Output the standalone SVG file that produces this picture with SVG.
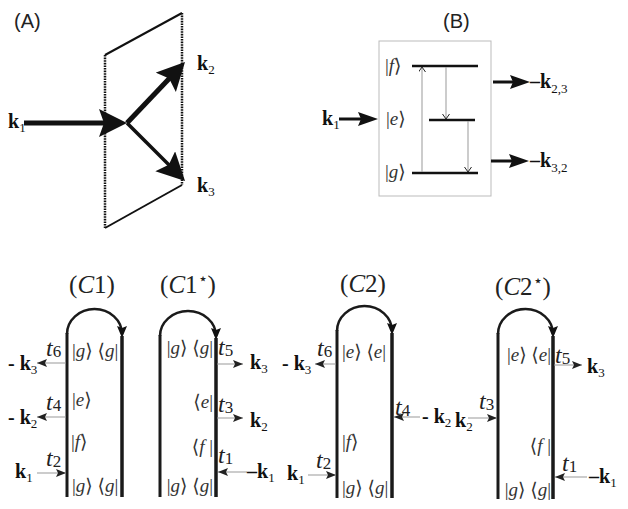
<svg xmlns="http://www.w3.org/2000/svg" width="628" height="509" viewBox="0 0 628 509">
<style>
.lab{font-family:"Liberation Sans",Arial,sans-serif;font-size:20px;fill:#222}
.k{font-family:"Liberation Serif","DejaVu Serif",serif;font-weight:bold;font-size:20px;fill:#111}
.kb{font-size:20px}
.ks{font-size:13px;font-weight:normal}
.ket{font-family:"Liberation Serif","DejaVu Serif",serif;font-size:19px;fill:#333}
.it{font-style:italic}
.t{font-family:"Liberation Serif","DejaVu Serif",serif;font-size:24px;fill:#222}
.ts{font-size:17px;font-style:normal}
.cl{font-family:"Liberation Serif","DejaVu Serif",serif;font-size:25px;fill:#222;text-anchor:middle}
.star{font-size:16px}
.rail{stroke:#1a1a1a;fill:none}
.thin{stroke:#999;stroke-width:1;fill:none}
.edge{stroke:#111;stroke-width:2.5;stroke-dasharray:1.6 1}
</style>
<defs>
<marker id="bigA" markerUnits="userSpaceOnUse" markerWidth="30" markerHeight="30" refX="10" refY="14" orient="auto"><path d="M0,0 L28,14 L0,28 L5,14 z" fill="#111"/></marker>
<marker id="midB" markerUnits="userSpaceOnUse" markerWidth="22" markerHeight="16" refX="8" refY="7" orient="auto"><path d="M0,0 L20,7 L0,14 L3,7 z" fill="#111"/></marker>
<marker id="chev" markerUnits="userSpaceOnUse" markerWidth="8" markerHeight="8" refX="5" refY="3.5" orient="auto"><path d="M0,0 L5,3.5 L0,7" fill="none" stroke="#222" stroke-width="1"/></marker>
<marker id="sm" markerUnits="userSpaceOnUse" markerWidth="12" markerHeight="10" refX="10" refY="4" orient="auto"><path d="M0,0 L10,4 L0,8 L2,4 z" fill="#222"/></marker>
<marker id="arc" markerUnits="userSpaceOnUse" markerWidth="14" markerHeight="12" refX="8" refY="5" orient="auto"><path d="M0,0 L12,5 L0,10 L2,5 z" fill="#111"/></marker>
</defs>

<!-- Panel A -->
<g id="panelA">
<text class="lab" x="14" y="28">(A)</text>
<g id="plane">
<line x1="105" y1="55" x2="182" y2="13" stroke="#111" stroke-width="2"/>
<line x1="105" y1="228" x2="182" y2="185" stroke="#111" stroke-width="2"/>
<line class="edge" x1="105" y1="55" x2="105" y2="228"/>
<line class="edge" x1="182" y1="13" x2="182" y2="185"/>
</g>
<g id="beamsA">
<line x1="24" y1="123" x2="109" y2="123" stroke="#111" stroke-width="5" marker-end="url(#bigA)"/>
<line x1="127" y1="123" x2="172.6" y2="75" stroke="#111" stroke-width="5" marker-end="url(#bigA)"/>
<line x1="127" y1="123" x2="172.3" y2="168.3" stroke="#111" stroke-width="3.5" marker-end="url(#bigA)"/>
</g>
<text class="k kb" x="8" y="128">k<tspan class="ks" dy="4">1</tspan></text>
<text class="k kb" x="197" y="70">k<tspan class="ks" dy="4">2</tspan></text>
<text class="k kb" x="197" y="192">k<tspan class="ks" dy="4">3</tspan></text>
</g>

<!-- Panel B -->
<g id="panelB">
<text class="lab" x="443" y="28">(B)</text>
<rect x="379" y="41" width="112" height="155" fill="none" stroke="#bbb" stroke-width="1"/>
<g id="levels">
<line x1="412" y1="66" x2="478" y2="66" stroke="#111" stroke-width="2.5"/>
<line x1="429" y1="120" x2="475" y2="120" stroke="#111" stroke-width="2.5"/>
<line x1="412" y1="173" x2="478" y2="173" stroke="#111" stroke-width="2.5"/>
<text class="ket" x="385" y="72">|<tspan class="it">f</tspan>⟩</text>
<text class="ket" x="386" y="125">|<tspan class="it">e</tspan>⟩</text>
<text class="ket" x="385" y="178">|<tspan class="it">g</tspan>⟩</text>
</g>
<g id="transitions">
<line class="thin" x1="422" y1="172" x2="422" y2="67" marker-end="url(#chev)"/>
<line class="thin" x1="446" y1="67" x2="446" y2="119" marker-end="url(#chev)"/>
<line class="thin" x1="468" y1="121" x2="468" y2="172" marker-end="url(#chev)"/>
</g>
<g id="beamsB">
<line x1="339" y1="119" x2="366" y2="119" stroke="#111" stroke-width="3" marker-end="url(#midB)"/>
<line x1="493" y1="82" x2="518" y2="82" stroke="#111" stroke-width="3" marker-end="url(#midB)"/>
<line x1="491" y1="161" x2="517" y2="161" stroke="#111" stroke-width="3" marker-end="url(#midB)"/>
</g>
<text class="k kb" x="322" y="125">k<tspan class="ks" dy="4">1</tspan></text>
<text class="k kb" x="530" y="88">–k<tspan class="ks" font-size="14" dy="5">2,3</tspan></text>
<text class="k kb" x="530" y="167">–k<tspan class="ks" font-size="14" dy="5">3,2</tspan></text>
</g>

<!-- Panel C: rails -->
<g id="C1">
<text class="cl" x="92" y="293">(<tspan class="it">C</tspan>1)</text>
<path class="rail" stroke-width="2.5" d="M67,334 A27.5,25 0 0 1 122,334" marker-end="url(#arc)"/>
<line class="rail" x1="67" y1="333" x2="67" y2="497" stroke-width="3"/>
<line class="rail" x1="122" y1="336" x2="122" y2="497" stroke-width="3.5"/>
<text class="ket" x="72" y="357">|<tspan class="it">g</tspan>⟩ ⟨<tspan class="it">g</tspan>|</text>
<text class="ket" x="72" y="406">|<tspan class="it">e</tspan>⟩</text>
<text class="ket" x="71" y="448">|<tspan class="it">f</tspan>⟩</text>
<text class="ket" x="72" y="492">|<tspan class="it">g</tspan>⟩ ⟨<tspan class="it">g</tspan>|</text>
</g>
<g id="C1star">
<text class="cl" x="188" y="293">(<tspan class="it">C</tspan>1<tspan class="star" dy="-9">⋆</tspan><tspan dy="9">)</tspan></text>
<path class="rail" stroke-width="2.5" d="M160,336 A28,25 0 0 1 216,336" marker-end="url(#arc)"/>
<line class="rail" x1="160" y1="335" x2="160" y2="497" stroke-width="3"/>
<line class="rail" x1="216" y1="338" x2="216" y2="497" stroke-width="3.5"/>
<text class="ket" x="213" y="354" text-anchor="end">|<tspan class="it">g</tspan>⟩ ⟨<tspan class="it">g</tspan>|</text>
<text class="ket" x="213" y="408" text-anchor="end">⟨<tspan class="it">e</tspan>|</text>
<text class="ket" x="213" y="453" text-anchor="end">⟨<tspan class="it">f</tspan> |</text>
<text class="ket" x="213" y="492" text-anchor="end">|<tspan class="it">g</tspan>⟩ ⟨<tspan class="it">g</tspan>|</text>
</g>
<g id="C2">
<text class="cl" x="363" y="292">(<tspan class="it">C</tspan>2)</text>
<path class="rail" stroke-width="2.5" d="M337,331 A27.5,25 0 0 1 392,331" marker-end="url(#arc)"/>
<line class="rail" x1="337" y1="330" x2="337" y2="498" stroke-width="3"/>
<line class="rail" x1="392" y1="333" x2="392" y2="498" stroke-width="3.5"/>
<text class="ket" x="342" y="358">|<tspan class="it">e</tspan>⟩ ⟨<tspan class="it">e</tspan>|</text>
<text class="ket" x="342" y="448">|<tspan class="it">f</tspan>⟩</text>
<text class="ket" x="342" y="494">|<tspan class="it">g</tspan>⟩ ⟨<tspan class="it">g</tspan>|</text>
</g>
<g id="C2star">
<text class="cl" x="523" y="295">(<tspan class="it">C</tspan>2<tspan class="star" dy="-9">⋆</tspan><tspan dy="9">)</tspan></text>
<path class="rail" stroke-width="2.5" d="M498,334 A27.5,25 0 0 1 553,334" marker-end="url(#arc)"/>
<line class="rail" x1="498" y1="333" x2="498" y2="499" stroke-width="3"/>
<line class="rail" x1="553" y1="336" x2="553" y2="499" stroke-width="3.5"/>
<text class="ket" x="551" y="361" text-anchor="end">|<tspan class="it">e</tspan>⟩ ⟨<tspan class="it">e</tspan>|</text>
<text class="ket" x="551" y="452" text-anchor="end">⟨<tspan class="it">f</tspan> |</text>
<text class="ket" x="551" y="496" text-anchor="end">|<tspan class="it">g</tspan>⟩ ⟨<tspan class="it">g</tspan>|</text>
</g>

<!-- Panel C: interaction arrows -->
<g id="connectors">
<line class="thin" x1="66" y1="363" x2="37" y2="363" marker-end="url(#sm)"/>
<line class="thin" x1="66" y1="417" x2="37" y2="417" marker-end="url(#sm)"/>
<line class="thin" x1="37" y1="473" x2="66" y2="473" marker-end="url(#sm)"/>
<line class="thin" x1="217" y1="364" x2="243" y2="364" marker-end="url(#sm)"/>
<line class="thin" x1="217" y1="418" x2="243" y2="418" marker-end="url(#sm)"/>
<line class="thin" x1="247" y1="472" x2="218" y2="472" marker-end="url(#sm)"/>
<line class="thin" x1="336" y1="364" x2="315" y2="364" marker-end="url(#sm)"/>
<line class="thin" x1="420" y1="417" x2="394" y2="417" marker-end="url(#sm)"/>
<line class="thin" x1="308" y1="475" x2="336" y2="475" marker-end="url(#sm)"/>
<line class="thin" x1="554" y1="365" x2="582" y2="365" marker-end="url(#sm)"/>
<line class="thin" x1="468" y1="418" x2="497" y2="418" marker-end="url(#sm)"/>
<line class="thin" x1="587" y1="477" x2="555" y2="477" marker-end="url(#sm)"/>
</g>

<!-- Panel C: labels -->
<g id="labelsC">
<text class="t" x="46" y="356"><tspan class="it">t</tspan><tspan class="ts" dy="1">6</tspan></text>
<text class="t" x="46" y="410"><tspan class="it">t</tspan><tspan class="ts" dy="1">4</tspan></text>
<text class="t" x="46" y="466"><tspan class="it">t</tspan><tspan class="ts" dy="1">2</tspan></text>
<text class="k" x="8" y="370">- k<tspan class="ks" dy="4">3</tspan></text>
<text class="k" x="8" y="424">- k<tspan class="ks" dy="4">2</tspan></text>
<text class="k" x="15" y="478">k<tspan class="ks" dy="4">1</tspan></text>

<text class="t" x="218" y="355"><tspan class="it">t</tspan><tspan class="ts" dy="1">5</tspan></text>
<text class="t" x="218" y="412"><tspan class="it">t</tspan><tspan class="ts" dy="1">3</tspan></text>
<text class="t" x="218" y="463"><tspan class="it">t</tspan><tspan class="ts" dy="1">1</tspan></text>
<text class="k" x="250" y="369">k<tspan class="ks" dy="4">3</tspan></text>
<text class="k" x="250" y="427">k<tspan class="ks" dy="4">2</tspan></text>
<text class="k" x="247" y="478">–k<tspan class="ks" dy="4">1</tspan></text>

<text class="t" x="317" y="356"><tspan class="it">t</tspan><tspan class="ts" dy="1">6</tspan></text>
<text class="t" x="316" y="468"><tspan class="it">t</tspan><tspan class="ts" dy="1">2</tspan></text>
<text class="t" x="395" y="415"><tspan class="it">t</tspan><tspan class="ts" dy="1">4</tspan></text>
<text class="k" x="282" y="370">- k<tspan class="ks" dy="4">3</tspan></text>
<text class="k" x="287" y="480">k<tspan class="ks" dy="4">1</tspan></text>
<text class="k" x="422" y="423">- k<tspan class="ks" dy="4">2</tspan></text>

<text class="t" x="479" y="409"><tspan class="it">t</tspan><tspan class="ts" dy="1">3</tspan></text>
<text class="t" x="555" y="363"><tspan class="it">t</tspan><tspan class="ts" dy="1">5</tspan></text>
<text class="t" x="562" y="471"><tspan class="it">t</tspan><tspan class="ts" dy="1">1</tspan></text>
<text class="k" x="455" y="427">k<tspan class="ks" dy="4">2</tspan></text>
<text class="k" x="587" y="373">k<tspan class="ks" dy="4">3</tspan></text>
<text class="k" x="589" y="483">–k<tspan class="ks" dy="4">1</tspan></text>
</g>
</svg>
